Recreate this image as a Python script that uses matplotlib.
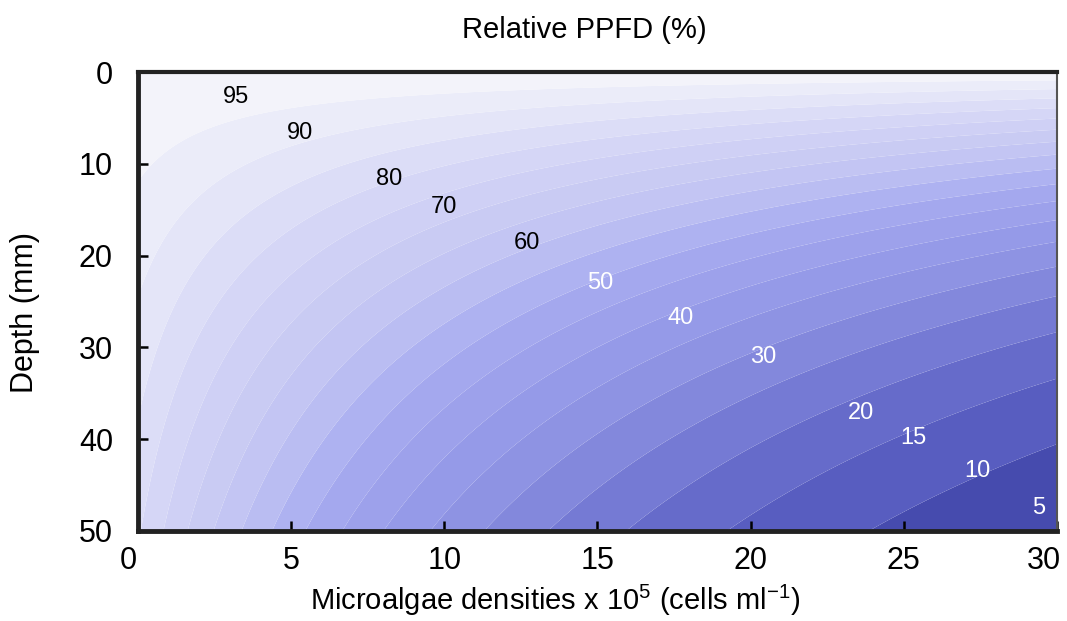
"""Relative PPFD (%) against microalgae density and depth, as banded contours."""

import matplotlib.pyplot as plt
import numpy as np
from matplotlib.colors import LinearSegmentedColormap
from matplotlib.transforms import ScaledTranslation

plt.rcParams["font.family"] = ["Liberation Sans", "DejaVu Sans"]
plt.rcParams["mathtext.default"] = "regular"

# axis ranges
density_range = [0, 30]     # x 10^5 cells ml-1
depth_range = [0, 50]       # mm

# attenuation (Beer-Lambert)
k_water = 0.0043            # mm-1
k_cells = 0.00175           # mm-1 per 10^5 cells ml-1

# contour levels (%)
levels = [0, 5, 10, 15, 20, 25, 30, 35, 40, 45, 50,
          55, 60, 65, 70, 75, 80, 85, 90, 95, 100]

# contour labels as printed on the chart
label_values = [95, 90, 80, 70, 60, 50, 40, 30, 20, 15, 10, 5]
label_x = [3.2, 5.3, 8.2, 10.0, 12.7, 15.1, 17.7, 20.4, 23.6, 25.3, 27.4, 29.4]
label_y = [2.7, 6.6, 11.7, 14.7, 18.6, 23.0, 26.8, 31.0, 37.1, 39.9, 43.5, 47.5]

xticks = [0, 5, 10, 15, 20, 25, 30]
yticks = [0, 10, 20, 30, 40, 50]

# band colours, from darkest (0 %) to lightest (100 %)
cmap = LinearSegmentedColormap.from_list("ppfd", [
    (0.00, "#353a98"),
    (0.05, "#3d42a2"),
    (0.10, "#5055bb"),
    (0.20, "#6e73d0"),
    (0.30, "#8a8fe0"),
    (0.40, "#999dea"),
    (0.50, "#a8acf0"),
    (0.60, "#c0c2f2"),
    (0.80, "#d8d9f6"),
    (1.00, "#f7f7fb"),
])

dens = np.linspace(density_range[0], density_range[1], 400)
depth = np.linspace(depth_range[0], depth_range[1], 400)
D, Z = np.meshgrid(dens, depth)
ppfd = 100 * np.exp(-(k_water + k_cells * D) * Z)

fig = plt.figure(figsize=(10.67, 6.21), dpi=100)
ax = fig.add_axes([0.1293, 0.145, 0.8613, 0.739])

ax.contourf(D, Z, ppfd, levels=levels, cmap=cmap, antialiased=True)

for v, x, y in zip(label_values, label_x, label_y):
    col = "black" if v >= 60 else "white"
    ax.text(x, y, str(v), color=col, fontsize=17, ha="center", va="center")

ax.set_xlim(density_range)
ax.set_ylim(depth_range[1], depth_range[0])
ax.set_xticks(xticks)
ax.set_yticks(yticks)

ax.tick_params(direction="in", length=7, width=1.8, labelsize=22,
               top=False, right=False)
ax.tick_params(axis="x", pad=11)
ax.tick_params(axis="y", pad=18)

# end labels sit a little to the left of their ticks
xlabels = ax.get_xticklabels()
for lab, dx in [(xlabels[0], -10), (xlabels[-1], -13)]:
    lab.set_transform(lab.get_transform() + ScaledTranslation(dx / 100, 0, fig.dpi_scale_trans))

ax.spines["left"].set_linewidth(3.5)
ax.spines["bottom"].set_linewidth(3.5)
ax.spines["top"].set_linewidth(3.0)
ax.spines["right"].set_linewidth(1.5)
for s in ["left", "bottom", "top"]:
    ax.spines[s].set_color("#222222")
ax.spines["right"].set_color("#555555")

ax.set_xlabel("Microalgae densities x 10$^5$ (cells ml$^{-1}$)", fontsize=21)
ax.xaxis.set_label_coords(0.454, -0.113)
ax.set_ylabel("Depth (mm)", fontsize=22)
ax.yaxis.set_label_coords(-0.107, 0.475)
ax.text(0.486, 1.0915, "Relative PPFD (%)", transform=ax.transAxes,
        fontsize=21, ha="center", va="center")

fig.savefig("out.png", dpi=100)
